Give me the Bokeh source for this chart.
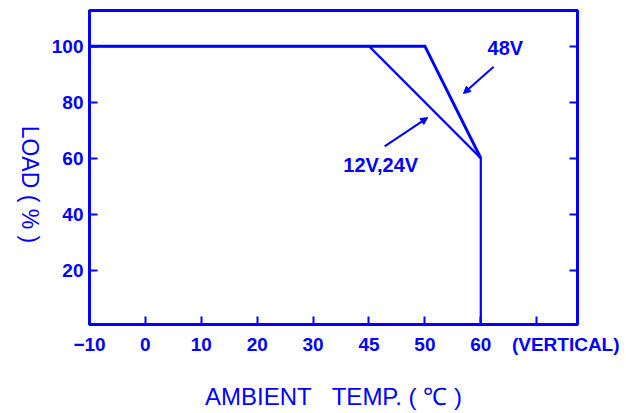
import math
from bokeh.plotting import figure
from bokeh.models import Arrow, NormalHead, LinearAxis, FixedTicker, Range1d, Label
from bokeh.embed import file_html
from bokeh.resources import INLINE

NB = "\u00a0"
THIN = "\u2009"

# ---- data ----
x_tick_values = [-10, 0, 10, 20, 30, 45, 50, 60]
x_tick_labels = ["−10", "0", "10", "20", "30", "45", "50", "60"]
y_ticks = [20, 40, 60, 80, 100]

temp_48v = [-10, 50, 60]
load_48v = [100, 100, 60]
temp_12v24v = [-10, 45, 60, 60]
load_12v24v = [100, 100, 60, 0]

BLUE = "#0000FF"
FONT = "Liberation Sans"


def to_pos(temps):
    # the temperature axis is drawn with equal spacing between its labelled ticks
    return [x_tick_values.index(t) for t in temps]


p = figure(width=626, height=413, output_backend="svg", toolbar_location=None,
           x_range=Range1d(0, 8.73), y_range=Range1d(0.6, 112.75),
           min_border_left=89, min_border_right=49, min_border_top=10, min_border_bottom=89,
           background_fill_color="white", border_fill_color="white")
p.grid.visible = False
p.outline_line_color = BLUE
p.outline_line_width = 3

# x axis
xa = p.xaxis[0]
xa.ticker = FixedTicker(ticks=list(range(len(x_tick_values))) + [8])
overrides = {i: lab for i, lab in enumerate(x_tick_labels)}
overrides[8] = NB * 11 + "(VERTICAL)"
xa.major_label_overrides = overrides
# y axis
ya = p.yaxis[0]
ya.ticker = FixedTicker(ticks=y_ticks)

for ax in (xa, ya):
    ax.axis_line_color = BLUE
    ax.axis_line_width = 3
    ax.major_tick_line_color = BLUE
    ax.major_tick_line_width = 2
    ax.major_tick_in = 8
    ax.major_tick_out = 0
    ax.minor_tick_line_color = None
    ax.major_label_text_color = BLUE
    ax.major_label_text_font = FONT
    ax.major_label_text_font_style = "bold"
    ax.major_label_text_font_size = "19px"
    ax.axis_label_text_color = BLUE
    ax.axis_label_text_font = FONT
    ax.axis_label_text_font_style = "normal"
    ax.axis_label_text_font_size = "24px"
xa.major_label_standoff = 9
ya.major_label_standoff = 6

xa.axis_label = "AMBIENT" + NB * 3 + "TEMP." + NB + "(" + NB + "℃" + NB + ")"
xa.axis_label_standoff = 25

ya.axis_label_text_font_size = "23px"
load_text = "LOAD" + NB + "(" + NB + "%" + NB + ")"
props = ya.properties()
if "axis_label_orientation" in props and "axis_label_align" in props:
    ya.axis_label_orientation = -math.pi / 2
    ya.axis_label_align = "start"
    ya.axis_label = load_text + NB * 12 + THIN
elif "axis_label_orientation" in props:
    ya.axis_label_orientation = -math.pi / 2
    ya.axis_label = load_text
else:
    ya.axis_label = load_text
ya.axis_label_standoff = 19

ra = LinearAxis(ticker=FixedTicker(ticks=y_ticks), major_label_text_font_size="0px",
                axis_line_color=BLUE, axis_line_width=3, major_tick_line_color=BLUE,
                major_tick_line_width=2, major_tick_in=8, major_tick_out=0,
                minor_tick_line_color=None)
p.add_layout(ra, "right")

# curves
p.line(to_pos(temp_12v24v), load_12v24v, line_color=BLUE, line_width=2.2, line_join="miter")
p.line(to_pos(temp_48v), load_48v, line_color=BLUE, line_width=3, line_join="miter")

# annotations
p.add_layout(Label(x=7.44, y=99.4, text="48V", text_color=BLUE, text_font=FONT,
                   text_font_style="bold", text_font_size="20px",
                   text_align="center", text_baseline="middle"))
p.add_layout(Label(x=5.21, y=57.4, text="12V,24V", text_color=BLUE, text_font=FONT,
                   text_font_style="bold", text_font_size="20px",
                   text_align="center", text_baseline="middle"))
p.add_layout(Arrow(x_start=7.23, y_start=92.7, x_end=6.69, y_end=83.1,
                   line_color=BLUE, line_width=2,
                   end=NormalHead(size=7, line_color=BLUE, fill_color=BLUE)))
p.add_layout(Arrow(x_start=5.28, y_start=64.2, x_end=6.05, y_end=74.5,
                   line_color=BLUE, line_width=2,
                   end=NormalHead(size=7, line_color=BLUE, fill_color=BLUE)))

open("out.html", "w").write(file_html(p, INLINE))
